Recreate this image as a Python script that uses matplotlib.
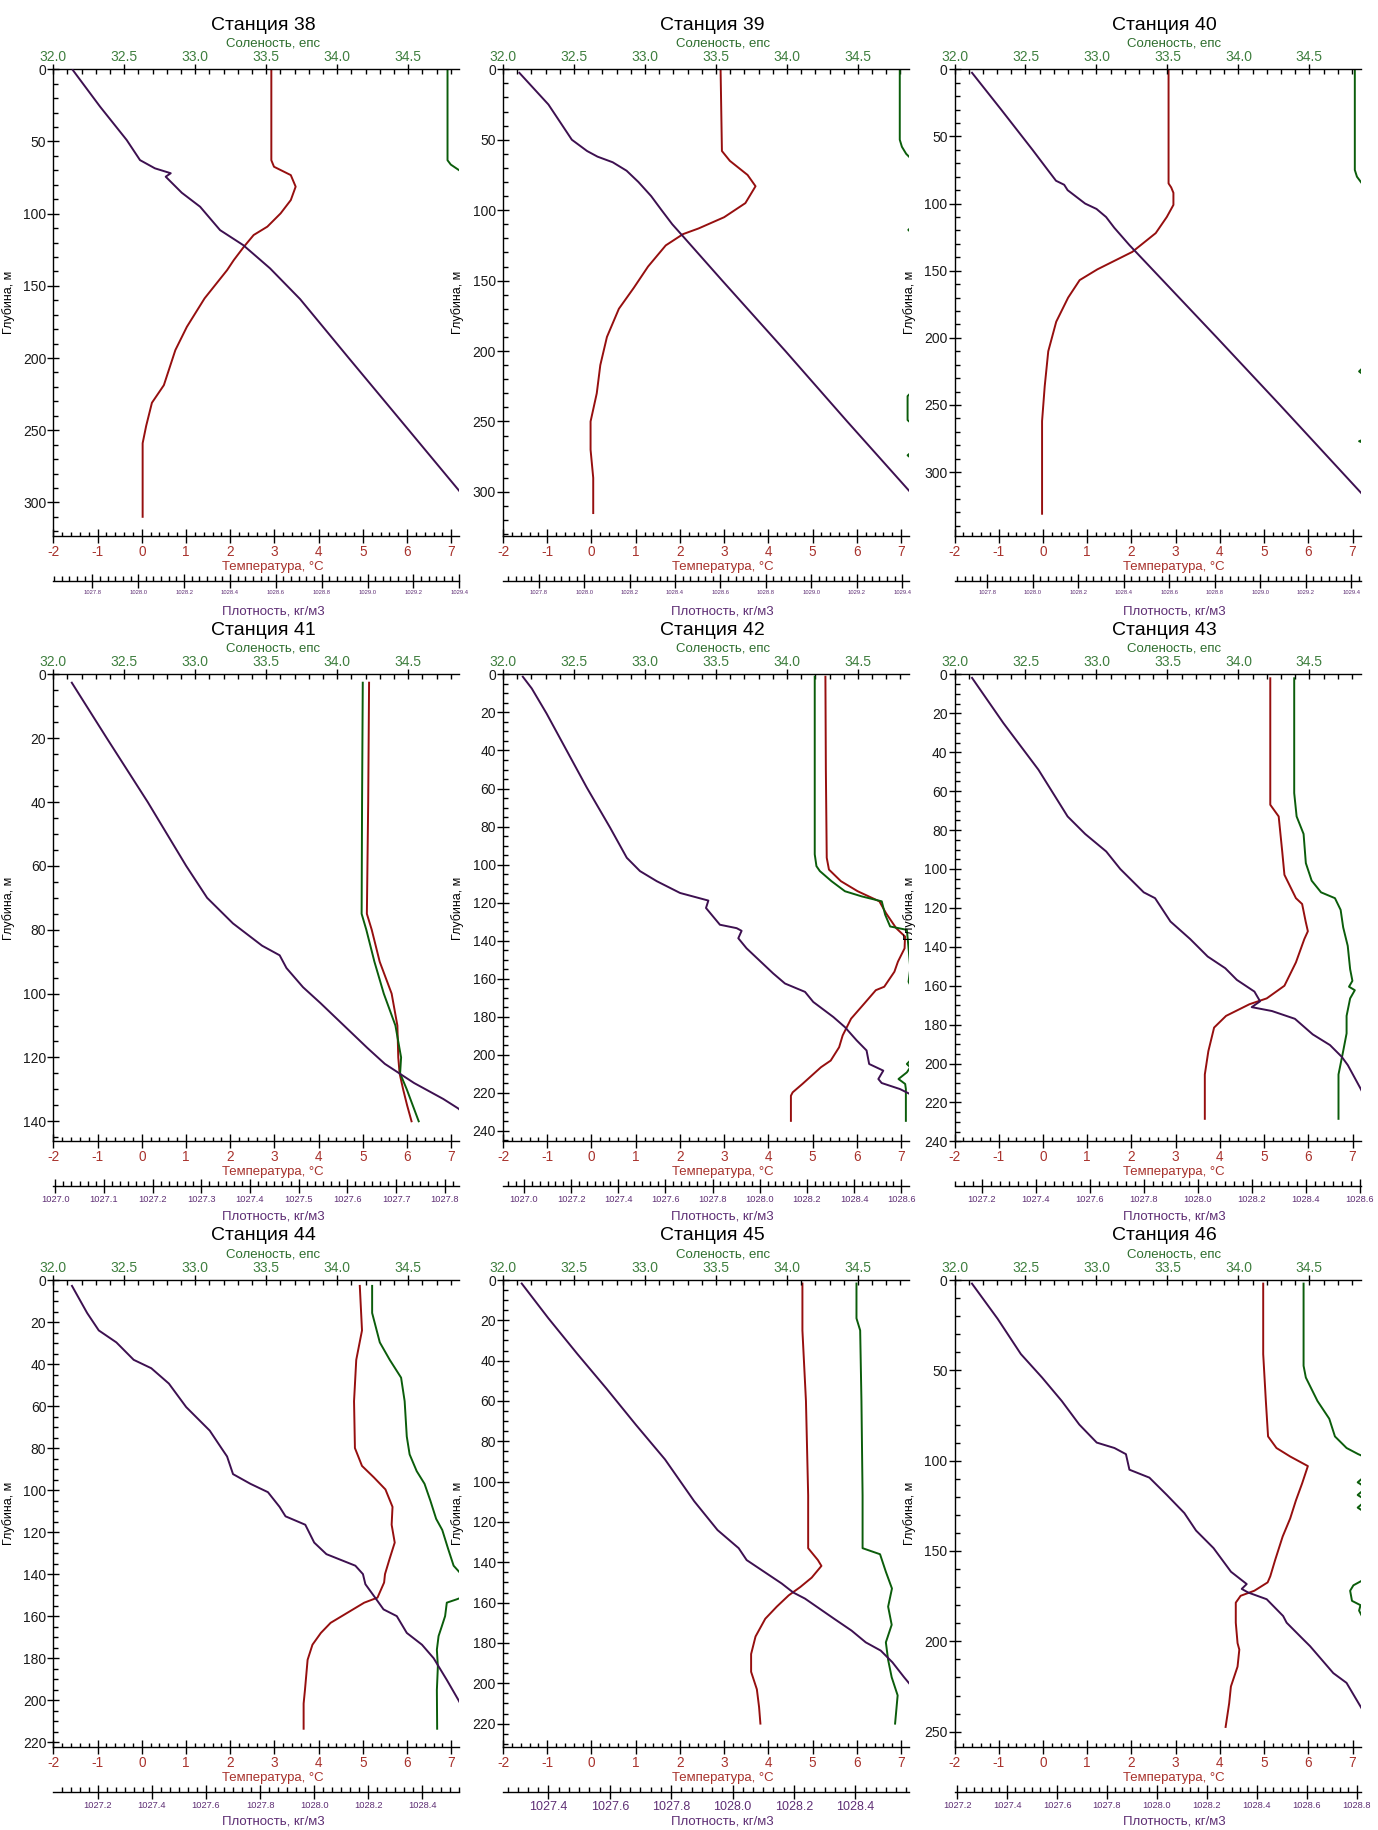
# -*- coding: utf-8 -*-

import numpy as np
import matplotlib.pyplot as plt
from matplotlib.ticker import MultipleLocator, FormatStrFormatter

plt.rcParams['font.family'] = ['Liberation Sans', 'DejaVu Sans']
plt.rcParams['axes.unicode_minus'] = False
plt.rcParams['axes.linewidth'] = 1.0

TEMP_COLOR = '#960f0f'
SAL_COLOR = '#0b5d0b'
DENS_COLOR = '#3d1050'
TEMP_TEXT = '#a8322c'
SAL_TEXT = '#3f7f3f'
DENS_TEXT = '#5e2e74'

stations = [38, 39, 40, 41, 42, 43, 44, 45, 46]
depth_limit = [323.5, 331.5, 347.8, 146.3, 245.5, 240.0, 222.3, 231.6, 258.5]
depth_step = [50, 50, 50, 20, 20, 20, 20, 20, 50]
dens_low = [1027.63, 1027.643, 1027.656, 1026.996, 1026.911, 1027.099, 1027.036, 1027.252, 1027.189]
dens_high = [1029.40, 1029.43, 1029.44, 1027.83, 1028.633, 1028.603, 1028.536, 1028.575, 1028.816]
dens_step = [0.2, 0.2, 0.2, 0.1, 0.2, 0.2, 0.2, 0.2, 0.2]

temp_range = (-2.0, 7.18)
sal_range = (32.0, 34.86)

# profiles as (depth, value) pairs
temp_38 = [(0.5, 2.93), (63, 2.93), (67.5, 2.99), (73.3, 3.37), (81.3, 3.48), (90.6, 3.37),
           (99.8, 3.14), (109, 2.84), (114.8, 2.53), (122.9, 2.31), (132.2, 2.08), (139.1, 1.93),
           (158.7, 1.42), (178.4, 1.02), (194.5, 0.76), (218.8, 0.5), (231, 0.23), (247, 0.10),
           (259, 0.02), (310, 0.02)]
sal_38 = [(0.5, 34.777), (63, 34.777), (66, 34.80), (70, 34.86), (75, 34.95), (100, 35.0), (310, 35.05)]
dens_38 = [(0.5, 1027.715), (25.9, 1027.834), (49, 1027.95), (62.9, 1028.008), (68.6, 1028.073),
           (72, 1028.142), (74.4, 1028.12), (85.5, 1028.19), (95.2, 1028.27), (111.4, 1028.357),
           (121.8, 1028.458), (129.9, 1028.517), (137.9, 1028.575), (159.2, 1028.706),
           (200, 1028.918), (250, 1029.18), (291.5, 1029.397), (310, 1029.49)]

temp_39 = [(0.5, 2.92), (58, 2.95), (65, 3.13), (75, 3.53), (83, 3.71), (95, 3.48), (105, 3.0),
           (113, 2.42), (117, 2.07), (125, 1.68), (140, 1.28), (155, 0.96), (170, 0.62),
           (190, 0.35), (210, 0.2), (230, 0.12), (250, -0.02), (270, -0.02), (290, 0.04), (315, 0.04)]
sal_39 = [(0.5, 34.795), (50, 34.795), (55, 34.81), (60, 34.84), (66, 34.9), (90, 34.95),
          (110, 34.9), (114, 34.855), (118, 34.9), (150, 34.95), (225, 34.92), (232, 34.85),
          (249, 34.85), (255, 34.92), (270, 34.9), (274, 34.85), (278, 34.9), (315, 34.95)]
dens_39 = [(2.5, 1027.715), (25, 1027.843), (50, 1027.946), (58, 1028.013), (62, 1028.059),
           (66, 1028.126), (72, 1028.187), (80, 1028.239), (90, 1028.295), (100, 1028.341),
           (110, 1028.388), (116.5, 1028.424), (150, 1028.608), (200, 1028.886),
           (250, 1029.158), (300, 1029.435), (315, 1029.517)]

temp_40 = [(0.5, 2.84), (85, 2.84), (88, 2.9), (92, 2.95), (101, 2.95), (110, 2.8), (122, 2.55),
           (136, 2.02), (149, 1.23), (157, 0.83), (170, 0.57), (188, 0.30), (210, 0.12),
           (236, 0.04), (262, -0.02), (331, -0.02)]
sal_40 = [(0.5, 34.82), (75, 34.82), (80, 34.835), (85, 34.87), (90, 34.95), (220, 34.9),
          (225, 34.85), (229, 34.9), (275, 34.9), (277, 34.85), (279, 34.9), (330, 34.95)]
dens_40 = [(2.6, 1027.733), (30, 1027.861), (60, 1027.999), (75, 1028.066), (83, 1028.102),
           (86, 1028.138), (90, 1028.153), (100, 1028.23), (104, 1028.28), (110, 1028.322),
           (118, 1028.358), (131, 1028.425), (200, 1028.81), (250, 1029.086), (315, 1029.44),
           (330, 1029.52)]

temp_41 = [(2.6, 5.14), (40, 5.12), (75, 5.09), (80, 5.2), (90, 5.38), (100, 5.65), (110, 5.78),
           (120, 5.80), (125, 5.83), (130, 5.91), (135, 6.0), (140, 6.1)]
sal_41 = [(2.6, 34.18), (40, 34.175), (75, 34.172), (80, 34.205), (90, 34.262), (100, 34.328),
          (110, 34.41), (120, 34.45), (125, 34.443), (130, 34.49), (140, 34.574)]
dens_41 = [(2.6, 1027.034), (20, 1027.106), (40, 1027.19), (60, 1027.269), (70, 1027.312),
           (78, 1027.365), (85, 1027.425), (88, 1027.461), (92, 1027.475), (98, 1027.509),
           (103, 1027.545), (110, 1027.593), (117, 1027.641), (122, 1027.677), (128, 1027.737),
           (133, 1027.797), (136, 1027.828), (140, 1027.857)]

temp_42 = [(1.2, 5.29), (50, 5.30), (96.4, 5.32), (102.6, 5.37), (108.7, 5.64), (114, 6.02),
           (119.3, 6.51), (125.5, 6.66), (133.4, 6.89), (137.8, 7.09), (144, 7.08), (151, 6.93),
           (156.3, 6.85), (164.2, 6.62), (166, 6.43), (173, 6.17), (181, 5.87), (189.8, 5.68),
           (196, 5.60), (203, 5.41), (206.5, 5.19), (215.3, 4.77), (219.7, 4.55), (221.5, 4.51),
           (234.7, 4.51)]
sal_42 = [(1.2, 34.196), (94.6, 34.196), (100.8, 34.208), (103.4, 34.232), (108.7, 34.314),
          (114, 34.409), (116.7, 34.527), (119.3, 34.668), (126.3, 34.692), (132.5, 34.727),
          (134.3, 34.845), (144, 34.857), (154.5, 34.869), (161.6, 34.857), (165, 34.88),
          (180, 34.95), (200, 34.9), (203, 34.869), (204.8, 34.845), (206.5, 34.869),
          (209.2, 34.845), (212.7, 34.786), (215.3, 34.833), (218, 34.838), (234.7, 34.838)]
dens_42 = [(1.2, 1026.995), (7.4, 1027.033), (20.6, 1027.096), (40, 1027.181), (59.4, 1027.266),
           (80.5, 1027.365), (96.4, 1027.436), (103.4, 1027.492), (108.7, 1027.563),
           (114.9, 1027.662), (118.9, 1027.782), (122.8, 1027.772), (131.6, 1027.831),
           (133.4, 1027.902), (134.8, 1027.923), (138.7, 1027.909), (144, 1027.944),
           (157.2, 1028.057), (162.5, 1028.107), (166.9, 1028.192), (172.2, 1028.227),
           (180.1, 1028.312), (185.4, 1028.361), (192.4, 1028.411), (197.7, 1028.453),
           (204.8, 1028.464), (208.3, 1028.524), (212.7, 1028.503), (214.8, 1028.517),
           (218, 1028.595), (220.6, 1028.637), (234.7, 1028.70)]

temp_43 = [(2, 5.14), (61, 5.14), (67, 5.14), (73, 5.33), (91, 5.41), (103, 5.46), (115, 5.72),
           (118, 5.86), (127, 5.94), (132, 5.99), (136, 5.91), (148, 5.72), (160, 5.46),
           (166.5, 5.06), (169.5, 4.67), (175.5, 4.14), (181.5, 3.87), (193.6, 3.74),
           (205.6, 3.66), (228.4, 3.66)]
sal_43 = [(2, 34.393), (61, 34.393), (73, 34.41), (82, 34.459), (97, 34.475), (106, 34.516),
          (112, 34.582), (115, 34.68), (121, 34.72), (130, 34.738), (139.5, 34.77),
          (151.5, 34.787), (157.5, 34.803), (160.5, 34.779), (162.3, 34.82), (166.5, 34.787),
          (175.5, 34.762), (184.5, 34.762), (193.6, 34.738), (205.6, 34.705), (228.4, 34.705)]
dens_43 = [(1.8, 1027.164), (25, 1027.28), (49, 1027.41), (73, 1027.518), (82, 1027.583),
           (91, 1027.661), (100, 1027.713), (112, 1027.8), (115, 1027.842), (127, 1027.899),
           (136, 1027.972), (145, 1028.037), (151, 1028.102), (157, 1028.145), (163, 1028.21),
           (168, 1028.231), (171, 1028.2), (173, 1028.275), (177, 1028.36), (185, 1028.426),
           (190.5, 1028.49), (196.6, 1028.534), (200.8, 1028.556), (212.8, 1028.603),
           (228.4, 1028.66)]

temp_44 = [(2.8, 4.93), (24, 4.98), (38, 4.85), (57.7, 4.80), (80, 4.82), (88.5, 4.98), (94, 5.25),
           (99.7, 5.51), (108, 5.67), (116.5, 5.65), (125, 5.72), (133, 5.6), (140, 5.5),
           (144, 5.48), (151.2, 5.33), (153.6, 5.03), (158.4, 4.65), (163.2, 4.27), (168, 4.05),
           (173.6, 3.86), (180.8, 3.75), (195.2, 3.69), (201.6, 3.66), (213.6, 3.66)]
sal_44 = [(2.8, 34.246), (15.7, 34.246), (29.7, 34.30), (38, 34.37), (46.5, 34.45), (57.7, 34.475),
          (74.5, 34.49), (83, 34.51), (91, 34.56), (97, 34.615), (105, 34.656), (113.7, 34.697),
          (119, 34.74), (127.7, 34.78), (136, 34.82), (139, 34.86), (145, 34.95), (150, 34.92),
          (152, 34.842), (153.6, 34.772), (160, 34.76), (164.8, 34.737), (169.5, 34.714),
          (176, 34.702), (184, 34.709), (195.2, 34.702), (213.6, 34.704)]
dens_44 = [(2.8, 1027.105), (15.7, 1027.161), (24, 1027.204), (29.7, 1027.269), (38, 1027.333),
           (42, 1027.398), (49.3, 1027.463), (60.5, 1027.527), (71.7, 1027.614), (80, 1027.657),
           (84, 1027.678), (92.4, 1027.70), (97, 1027.764), (101, 1027.829), (108, 1027.872),
           (112.5, 1027.894), (116.5, 1027.967), (125, 1028.0), (130.5, 1028.045),
           (136, 1028.152), (140, 1028.18), (144.8, 1028.189), (151.2, 1028.225),
           (156.8, 1028.256), (160, 1028.305), (168, 1028.342), (173.6, 1028.398),
           (180, 1028.441), (190.4, 1028.49), (200, 1028.533), (213.6, 1028.59)]

temp_45 = [(1.75, 4.77), (25, 4.77), (60, 4.85), (106.8, 4.9), (133, 4.9), (138.9, 5.12),
           (141.8, 5.2), (147.6, 4.98), (152.3, 4.72), (156.4, 4.46), (162, 4.19), (168, 3.93),
           (176.8, 3.71), (185.5, 3.61), (194.3, 3.61), (203, 3.74), (211.8, 3.79), (220, 3.82)]
sal_45 = [(1.75, 34.49), (19, 34.49), (25, 34.516), (60, 34.525), (106.8, 34.533), (133, 34.533),
          (136, 34.656), (144.7, 34.697), (153, 34.74), (162, 34.713), (171, 34.738),
          (179.7, 34.697), (188.4, 34.713), (197, 34.738), (206, 34.78), (220, 34.762)]
dens_45 = [(1.75, 1027.313), (19, 1027.40), (36.8, 1027.495), (54, 1027.59), (71.8, 1027.685),
           (89, 1027.78), (109.7, 1027.875), (124, 1027.951), (133, 1028.02), (138.9, 1028.046),
           (144.7, 1028.103), (150.5, 1028.16), (155, 1028.198), (158, 1028.236),
           (162, 1028.274), (168, 1028.331), (173.9, 1028.388), (179.7, 1028.434),
           (183.8, 1028.483), (189.6, 1028.521), (197, 1028.559), (210, 1028.63), (220, 1028.67)]

temp_46 = [(2, 4.98), (41, 4.98), (67, 5.04), (86.6, 5.09), (93, 5.28), (97.7, 5.59), (103, 5.99),
           (112.6, 5.86), (122, 5.72), (132, 5.59), (142, 5.42), (155, 5.25), (164, 5.14),
           (167.4, 5.08), (172, 4.78), (174.8, 4.47), (178.6, 4.36), (189.7, 4.36), (201, 4.40),
           (204.6, 4.44), (214, 4.40), (225, 4.25), (234.4, 4.21), (247.4, 4.13)]
sal_46 = [(2, 34.459), (47.5, 34.459), (54, 34.475), (60.5, 34.516), (67, 34.557), (76.8, 34.64),
          (86.6, 34.68), (93, 34.762), (96.4, 34.844), (99, 34.92), (108, 34.9), (112, 34.84),
          (115, 34.9), (119, 34.84), (122, 34.9), (126, 34.84), (129, 34.9), (150, 34.95),
          (166, 34.88), (169, 34.81), (172, 34.787), (177.6, 34.80), (180, 34.86),
          (183, 34.85), (186, 34.87), (192, 34.92), (247.4, 34.95)]
dens_46 = [(2, 1027.259), (21.5, 1027.362), (41, 1027.455), (54, 1027.54), (67, 1027.619),
           (80, 1027.689), (90, 1027.759), (93, 1027.83), (96.4, 1027.876), (105, 1027.89),
           (109.4, 1027.97), (119, 1028.04), (129, 1028.11), (138.7, 1028.157),
           (148.4, 1028.227), (161.5, 1028.297), (168.3, 1028.36), (171, 1028.34),
           (173, 1028.366), (176.7, 1028.44), (186, 1028.506), (189.7, 1028.52), (199, 1028.587),
           (202.7, 1028.614), (217.6, 1028.707), (223, 1028.76), (237, 1028.82), (247.4, 1028.86)]

temp_profiles = [temp_38, temp_39, temp_40, temp_41, temp_42, temp_43, temp_44, temp_45, temp_46]
sal_profiles = [sal_38, sal_39, sal_40, sal_41, sal_42, sal_43, sal_44, sal_45, sal_46]
dens_profiles = [dens_38, dens_39, dens_40, dens_41, dens_42, dens_43, dens_44, dens_45, dens_46]

# label size on the density scale differs between panels
dens_fontsize = [4.2, 4.2, 4.2, 6.7, 6.7, 6.7, 6.7, 9.0, 6.7]

W, H = 1378.0, 1830.0
col_left = [53.3, 503.0, 954.5]
row_top = [69.3, 674.4, 1280.0]
ax_w, ax_h = 406.0, 467.0


def station_panel(fig, i):
    left = col_left[i % 3]
    top = row_top[i // 3]
    ax = fig.add_axes([left / W, 1 - (top + ax_h) / H, ax_w / W, ax_h / H])
    sal_ax = ax.twiny()
    dens_ax = ax.twiny()

    t = np.array(temp_profiles[i])
    s = np.array(sal_profiles[i])
    d = np.array(dens_profiles[i])
    ax.plot(t[:, 1], t[:, 0], color=TEMP_COLOR, lw=1.4)
    sal_ax.plot(s[:, 1], s[:, 0], color=SAL_COLOR, lw=1.4)
    dens_ax.plot(d[:, 1], d[:, 0], color=DENS_COLOR, lw=1.4)

    ax.set_xlim(*temp_range)
    sal_ax.set_xlim(*sal_range)
    dens_ax.set_xlim(dens_low[i], dens_high[i])
    ax.set_ylim(depth_limit[i], 0)

    # depth axis
    ax.spines['right'].set_visible(False)
    ax.spines['top'].set_visible(False)
    ax.yaxis.set_major_locator(MultipleLocator(depth_step[i]))
    ax.yaxis.set_minor_locator(MultipleLocator(10 if depth_step[i] == 50 else 5))
    ax.yaxis.set_major_formatter(FormatStrFormatter('%d'))
    ax.tick_params(axis='y', which='major', direction='inout', length=9, width=1.0,
                   pad=0.5, labelsize=10, labelcolor='#1a1a1a')
    ax.tick_params(axis='y', which='minor', direction='in', length=3.8, width=1.0)
    ax.set_ylabel('Глубина, м', fontsize=9)
    ax.yaxis.set_label_coords(-38.5 / ax_w, 0.5)

    # temperature axis
    ax.xaxis.set_major_locator(MultipleLocator(1))
    ax.xaxis.set_minor_locator(MultipleLocator(0.2))
    ax.xaxis.set_major_formatter(FormatStrFormatter('%d'))
    ax.tick_params(axis='x', which='major', direction='inout', length=10, width=1.0,
                   pad=1.5, labelsize=9.8, labelcolor=TEMP_TEXT)
    ax.tick_params(axis='x', which='minor', direction='in', length=3.2, width=1.0)

    # salinity axis on top
    for side in ('bottom', 'left', 'right'):
        sal_ax.spines[side].set_visible(False)
    sal_ax.xaxis.set_major_locator(MultipleLocator(0.5))
    sal_ax.xaxis.set_minor_locator(MultipleLocator(0.1))
    sal_ax.xaxis.set_major_formatter(FormatStrFormatter('%.1f'))
    sal_ax.tick_params(axis='x', which='major', direction='inout', length=7.5, width=1.0,
                       pad=0.2, labelsize=10, labelcolor=SAL_TEXT)
    sal_ax.tick_params(axis='x', which='minor', direction='in', length=3.6, width=1.0)

    # density axis detached below
    for side in ('top', 'left', 'right'):
        dens_ax.spines[side].set_visible(False)
    dens_ax.spines['bottom'].set_visible(True)
    dens_ax.spines['bottom'].set_position(('outward', 32.4))
    dens_ax.xaxis.tick_bottom()
    dens_ax.xaxis.set_major_locator(MultipleLocator(dens_step[i]))
    dens_ax.xaxis.set_minor_locator(MultipleLocator(dens_step[i] / 6))
    dens_ax.xaxis.set_major_formatter(FormatStrFormatter('%.1f'))
    dens_ax.tick_params(axis='x', which='major', direction='inout', length=10.5, width=1.0,
                        pad=1.2, labelsize=dens_fontsize[i], labelcolor=DENS_TEXT)
    dens_ax.tick_params(axis='x', which='minor', direction='in', length=3.6, width=1.0)

    tx = (273 - 53.3) / ax_w
    ax.text((263 - 53.3) / ax_w, 1 + 44.0 / ax_h, 'Станция %d' % stations[i],
            transform=ax.transAxes, ha='center', va='center', fontsize=14)
    ax.text(tx, 1 + 25.5 / ax_h, 'Соленость, епс', transform=ax.transAxes,
            ha='center', va='center', fontsize=9.5, color='#2e6e2e')
    ax.text(tx, -31 / ax_h, 'Температура, °С', transform=ax.transAxes,
            ha='center', va='center', fontsize=9.5, color=TEMP_TEXT)
    ax.text(tx, -75 / ax_h, 'Плотность, кг/м3', transform=ax.transAxes,
            ha='center', va='center', fontsize=9.5, color=DENS_TEXT)


fig = plt.figure(figsize=(13.78, 18.30), dpi=100)
fig.patch.set_facecolor('white')
for i in range(len(stations)):
    station_panel(fig, i)

fig.savefig('out.png', dpi=100, facecolor='white')
